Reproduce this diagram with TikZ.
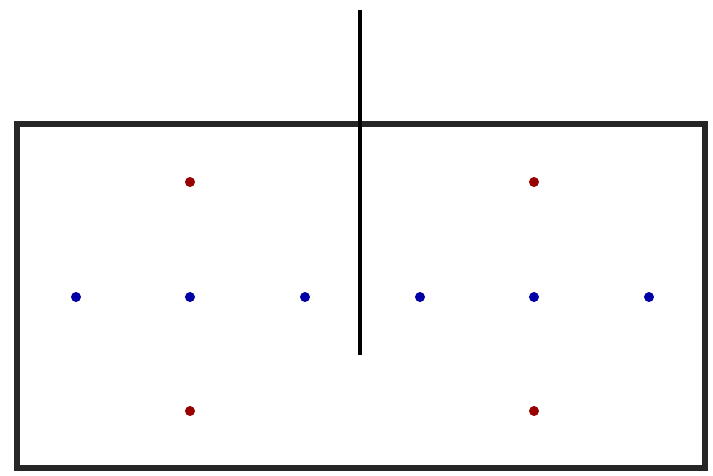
\documentclass[tikz,border=0pt]{standalone}
\usepackage{tikz}
\usetikzlibrary{positioning}

\begin{document}
\begin{tikzpicture}[
  wall/.style={draw=black!85, line width=1.7pt},
  divider/.style={draw=black, line width=1.4pt},
  dot/.style={circle, inner sep=0pt, minimum size=0.1cm},
  reddot/.style={dot, fill=red!60!black},
  bluedot/.style={dot, fill=blue!65!black}
]
\useasboundingbox (0,0) rectangle (7.13,4.75);
\fill[white] (0,0) rectangle (7.13,4.75);

\draw[wall] (0.17,0.07) rectangle (7.05,3.51);

\coordinate (top) at (3.60,4.65);
\coordinate (bottom) at (3.60,1.20);
\draw[divider] (top) -- (bottom);

\node[reddot] (r1) at (1.90,2.93) {};
\node[reddot] (r2) at (5.34,2.93) {};
\node[reddot] (r3) at (1.90,0.64) {};
\node[reddot] (r4) at (5.34,0.64) {};

\node[bluedot] (b1) at (0.76,1.78) {};
\node[bluedot] (b2) at (1.90,1.78) {};
\node[bluedot] (b3) at (3.05,1.78) {};
\node[bluedot] (b4) at (4.20,1.78) {};
\node[bluedot] (b5) at (5.34,1.78) {};
\node[bluedot] (b6) at (6.49,1.78) {};
\end{tikzpicture}
\end{document}
